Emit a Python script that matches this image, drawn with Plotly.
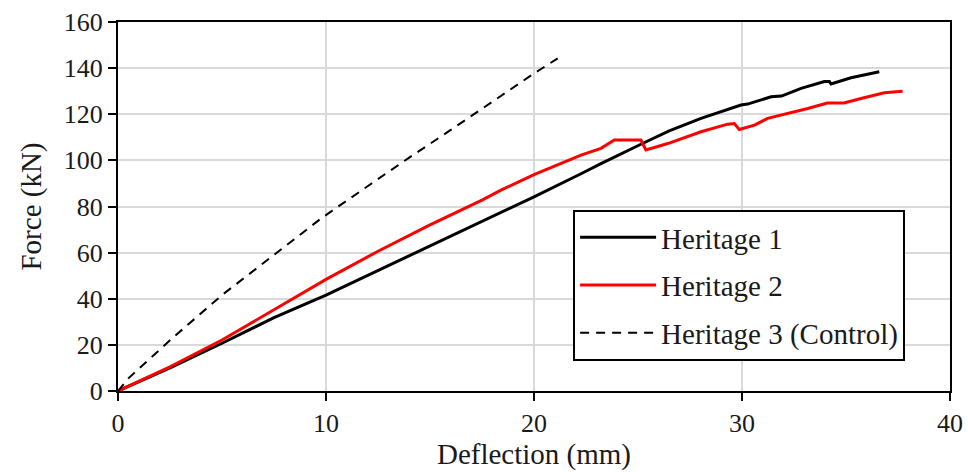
import plotly.graph_objects as go

# Load-deflection readings (deflection in mm, force in kN)
h1_defl = [0, 2.5, 5, 7.5, 10, 12.5, 15, 17.5, 20, 22.26, 23.22, 25.14, 26.5, 28.03,
           29.95, 30.27, 31.4, 31.9, 32.84, 33.96, 34.2, 34.28, 35.24, 36.6]
h1_force = [0, 10, 20.7, 31.8, 41.6, 52.2, 62.7, 73.4, 84.2, 94.2, 98.6, 107.0, 112.8, 118.2,
            124.0, 124.4, 127.6, 127.9, 131.2, 134.2, 134.2, 133.1, 135.8, 138.4]

h2_defl = [0, 2.5, 5, 7.5, 10, 12.5, 15, 17.5, 18.41, 20, 22.26, 23.22, 23.86, 25.14,
           25.38, 26.43, 28.03, 29.31, 29.63, 29.87, 30.6, 31.23, 32.2, 33.16, 34.1,
           34.9, 35.72, 36.84, 37.72]
h2_force = [0, 10.5, 22.1, 35.4, 48.4, 60.6, 72.0, 82.8, 87.1, 93.8, 102.3, 105.2, 108.8, 108.8,
            104.5, 107.3, 112.4, 115.7, 116.0, 113.4, 115.3, 118.2, 120.3, 122.5, 124.9,
            124.9, 126.8, 129.3, 130.0]

h3_defl = [0, 0.5, 2.5, 5, 7.5, 9.76, 12, 14, 16, 18, 20.1, 21.14]
h3_force = [0, 5.5, 22, 41.6, 59, 74.8, 88.8, 101.2, 113.2, 125.5, 138.3, 144.2]

x_ticks = [0, 10, 20, 30, 40]
y_ticks = [0, 20, 40, 60, 80, 100, 120, 140, 160]

FONT = "Liberation Serif"
TXT = "#1a1a1a"

fig = go.Figure()
fig.add_trace(go.Scatter(x=h1_defl, y=h1_force, mode="lines", name="Heritage 1",
                         legendgroup="a", line=dict(color="black", width=3)))
fig.add_trace(go.Scatter(x=h2_defl, y=h2_force, mode="lines", name="Heritage 2",
                         legendgroup="b", line=dict(color="#ff0000", width=3)))
fig.add_trace(go.Scatter(x=h3_defl, y=h3_force, mode="lines", name="Heritage 3 (Control)",
                         legendgroup="c", line=dict(color="black", width=2, dash="9px,7px")))

axis_common = dict(
    showline=True, linecolor="black", linewidth=2, mirror=True,
    ticks="outside", ticklen=8, tickwidth=2, tickcolor="black",
    showgrid=True, gridcolor="#d9d9d9", gridwidth=2, zeroline=False,
    automargin=False,
    tickfont=dict(family=FONT, size=26, color=TXT),
)

fig.update_xaxes(range=[0, 40], tickvals=x_ticks,
                 title=dict(text="Deflection (mm)", font=dict(family=FONT, size=29, color=TXT),
                            standoff=4),
                 **axis_common)
fig.update_yaxes(range=[0, 160], tickvals=y_ticks,
                 title=dict(text="Force (kN)", font=dict(family=FONT, size=29, color=TXT),
                            standoff=14),
                 **axis_common)

fig.update_layout(
    width=968, height=472,
    margin=dict(l=118, r=18, t=22, b=81),
    plot_bgcolor="white", paper_bgcolor="white",
    font=dict(family=FONT, color=TXT),
    legend=dict(x=0.547, y=0.4905, xanchor="left", yanchor="top",
                bgcolor="white", bordercolor="black", borderwidth=2,
                font=dict(family=FONT, size=29, color=TXT),
                traceorder="grouped", tracegroupgap=7, itemwidth=76),
)

fig.write_html("out.html")
